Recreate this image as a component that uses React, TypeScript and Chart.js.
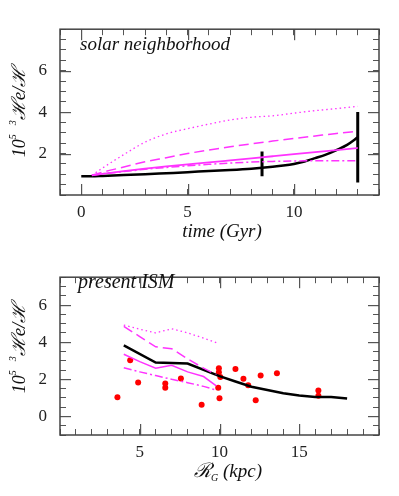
import { useEffect, useRef } from 'react';
import { Chart, registerables } from 'chart.js';
Chart.register(...registerables);

// ---------- Top panel: solar neighborhood ----------
const solarTime = [0, 0.5, 1, 2, 3, 4, 5, 6, 7, 8, 8.5, 9, 9.5, 10, 10.5, 11, 11.5, 12, 12.5, 13];
const solarModel = [0.9, 0.9, 0.92, 0.96, 1.0, 1.05, 1.1, 1.16, 1.21, 1.27, 1.31, 1.36, 1.42, 1.5, 1.62, 1.78, 1.95, 2.17, 2.42, 2.78];
const altTime = [0.5, 1, 2, 3, 4, 5, 6, 7, 8, 9, 10, 11, 12, 13];
const altDotted = [0.95, 1.3, 1.95, 2.55, 2.95, 3.2, 3.42, 3.62, 3.75, 3.82, 3.95, 4.07, 4.17, 4.28];
const altDashed = [0.95, 1.1, 1.35, 1.6, 1.8, 2.0, 2.17, 2.33, 2.47, 2.6, 2.73, 2.85, 2.97, 3.08];
const altSolid = [0.95, 1.02, 1.15, 1.27, 1.38, 1.48, 1.57, 1.67, 1.77, 1.87, 1.97, 2.07, 2.17, 2.27];
const altDashDot = [0.95, 1.02, 1.13, 1.24, 1.33, 1.41, 1.48, 1.54, 1.59, 1.62, 1.64, 1.65, 1.65, 1.65];
const errTime = [8.5, 13];
const errLow = [0.9, 0.6];
const errHigh = [2.1, 4.0];
const timeTickLabels = [0, 5, 10];
const heTickLabels = [0, 2, 4, 6];

// ---------- Bottom panel: present ISM ----------
const ismR = [4, 6, 8, 10, 11, 12, 13, 14, 15, 16, 17, 18];
const ismModel = [3.83, 2.9, 2.85, 2.17, 1.88, 1.6, 1.42, 1.25, 1.13, 1.05, 1.05, 0.97];
const gradR = [4, 5, 6, 7, 8, 9, 9.8];
const gradDotted = [4.92, 4.7, 4.5, 4.72, 4.5, 4.22, 3.98];
const gradDashed = [4.85, 4.3, 3.75, 3.65, 3.1, 2.6, 2.25];
const gradSolid = [3.35, 2.95, 2.6, 2.75, 2.4, 2.15, 1.65];
const gradDashDot = [2.62, 2.4, 2.2, 2.0, 1.82, 1.62, 1.42];
const obsR = [3.6, 4.4, 4.9, 6.6, 6.6, 7.58, 8.88, 9.96, 9.96, 10.05, 9.92, 10.0, 11.0, 11.5, 11.8, 12.27, 12.58, 13.6, 16.2, 16.2];
const obsHe = [1.03, 3.03, 1.83, 1.78, 1.55, 2.05, 0.63, 2.6, 2.38, 2.13, 1.55, 0.98, 2.55, 2.03, 1.68, 0.87, 2.2, 2.33, 1.4, 1.12];
const rTickLabels = [5, 10, 15];

const SERIF = '"Liberation Serif", "DejaVu Serif", serif';
const MAG = '#ff33ff';
const TICK = '#555';

const pts = (xs: number[], ys: number[]) => xs.map((x, i) => ({ x, y: ys[i] }));

type Seg = { t: string; size: number; dy: number; italic?: boolean };
function drawRich(ctx: CanvasRenderingContext2D, segs: Seg[], cx: number, cy: number) {
  let w = 0;
  for (const s of segs) {
    ctx.font = `${s.italic === false ? '' : 'italic '}${s.size}px ${SERIF}`;
    w += ctx.measureText(s.t).width;
  }
  let x = cx - w / 2;
  ctx.textBaseline = 'middle';
  ctx.textAlign = 'left';
  for (const s of segs) {
    ctx.font = `${s.italic === false ? '' : 'italic '}${s.size}px ${SERIF}`;
    ctx.fillText(s.t, x, cy + s.dy);
    x += ctx.measureText(s.t).width;
  }
}

type FrameOpts = {
  xmin: number; xmax: number; ymin: number; ymax: number;
  xMajor: number; yMajor: number;
  label: string; labelX: number; labelY: number; labelSize: number;
  xTitle: Seg[]; xTitleX: number; xTitleY: number; yTitleX: number; yTitleY: number;
};

// frame, longer major ticks, annotation and axis titles
function framePlugin(opts: FrameOpts) {
  return {
    id: 'innerFrame',
    afterDraw(chart: any) {
      const ctx: CanvasRenderingContext2D = chart.ctx;
      const area = chart.chartArea;
      const left = area.left, right = area.right, top = area.top, bottom = area.bottom;
      const xs = chart.scales.x;
      const ys = chart.scales.y;
      ctx.save();
      ctx.setLineDash([]);
      ctx.fillStyle = TICK;
      for (let v = Math.ceil(opts.xmin / opts.xMajor) * opts.xMajor; v <= opts.xmax; v += opts.xMajor) {
        const px = Math.round(xs.getPixelForValue(v));
        if (!Number.isFinite(px) || px <= left + 1 || px >= right - 1) continue;
        ctx.fillRect(px, bottom - 11, 1.2, 11);
        ctx.fillRect(px, top, 1.2, 11);
      }
      for (let v = Math.ceil(opts.ymin / opts.yMajor) * opts.yMajor; v <= opts.ymax; v += opts.yMajor) {
        const py = Math.round(ys.getPixelForValue(v));
        if (!Number.isFinite(py) || py <= top + 1 || py >= bottom - 1) continue;
        ctx.fillRect(left, py, 11, 1.2);
        ctx.fillRect(right - 11, py, 11, 1.2);
      }
      ctx.strokeStyle = '#444';
      ctx.lineWidth = 1.5;
      ctx.strokeRect(left, top, right - left, bottom - top);
      ctx.fillStyle = '#111';
      ctx.font = `italic ${opts.labelSize}px ${SERIF}`;
      ctx.textAlign = 'left';
      ctx.textBaseline = 'middle';
      ctx.fillText(opts.label, opts.labelX, opts.labelY);
      drawRich(ctx, opts.xTitle, opts.xTitleX, opts.xTitleY);
      ctx.translate(opts.yTitleX, opts.yTitleY);
      ctx.rotate(-Math.PI / 2);
      drawRich(ctx, [
        { t: '10', size: 18, dy: 0 },
        { t: '5', size: 10, dy: -7 },
        { t: '   ', size: 12, dy: 0 },
        { t: '3', size: 10, dy: -7 },
        { t: 'ℋe/ℋ', size: 19, dy: 0 },
      ], 0, 0);
      ctx.restore();
    },
  };
}

// inward minor ticks drawn by Chart.js itself (negative tick length)
const innerGrid = {
  display: true,
  drawOnChartArea: false,
  drawTicks: true,
  tickLength: -6,
  tickColor: TICK,
  tickWidth: 1,
};

function makeOptions(p: {
  xmin: number; xmax: number; ymin: number; ymax: number; xLabels: number[]; yLabels: number[];
  padTop: number; xHeight: number;
}) {
  return {
    responsive: false,
    animation: false as const,
    devicePixelRatio: 1,
    layout: { padding: { top: p.padTop, right: 20, left: 0, bottom: 0 } },
    plugins: { legend: { display: false }, tooltip: { enabled: false } },
    scales: {
      x: {
        type: 'linear' as const,
        position: 'bottom' as const,
        min: p.xmin,
        max: p.xmax,
        grid: innerGrid,
        border: { display: false },
        ticks: {
          stepSize: 1,
          autoSkip: false,
          maxRotation: 0,
          padding: 13,
          color: '#222',
          font: { family: SERIF, size: 17 },
          callback: (v: any) => (p.xLabels.includes(Number(v)) ? String(v) : ''),
        },
        afterFit: (s: any) => { s.height = p.xHeight; },
      },
      xt: {
        type: 'linear' as const,
        position: 'top' as const,
        min: p.xmin,
        max: p.xmax,
        grid: innerGrid,
        border: { display: false },
        ticks: { display: false, stepSize: 1, autoSkip: false },
        afterFit: (s: any) => { s.height = 0; },
      },
      y: {
        type: 'linear' as const,
        position: 'left' as const,
        min: p.ymin,
        max: p.ymax,
        grid: innerGrid,
        border: { display: false },
        ticks: {
          stepSize: 0.5,
          autoSkip: false,
          padding: 19,
          color: '#222',
          font: { family: SERIF, size: 17 },
          callback: (v: any) => (p.yLabels.includes(Number(v)) ? String(v) : ''),
        },
        afterFit: (s: any) => { s.width = 60; },
      },
      yr: {
        type: 'linear' as const,
        position: 'right' as const,
        min: p.ymin,
        max: p.ymax,
        grid: innerGrid,
        border: { display: false },
        ticks: { display: false, stepSize: 0.5, autoSkip: false },
        afterFit: (s: any) => { s.width = 0; },
      },
    },
  };
}

const lineDs = (data: any[], color: string, width: number, dash: number[], smooth = true) => ({
  data,
  xAxisID: 'x',
  yAxisID: 'y',
  showLine: true,
  borderColor: color,
  borderWidth: width,
  borderDash: dash,
  pointRadius: 0,
  fill: false,
  cubicInterpolationMode: smooth ? ('monotone' as const) : ('default' as const),
});

export default function App() {
  const topRef = useRef<HTMLCanvasElement>(null);
  const botRef = useRef<HTMLCanvasElement>(null);

  useEffect(() => {
    const top = new Chart(topRef.current!, {
      type: 'scatter',
      data: {
        datasets: [
          lineDs(pts(altTime, altDotted), MAG, 1.3, [1.5, 3]),
          lineDs(pts(altTime, altDashed), MAG, 1.5, [10, 5]),
          lineDs(pts(altTime, altSolid), MAG, 1.8, []),
          lineDs(pts(altTime, altDashDot), MAG, 1.5, [8, 3, 2, 3]),
          lineDs(pts(solarTime, solarModel), '#000', 2.5, []),
          ...errTime.map((t, i) => lineDs([{ x: t, y: errLow[i] }, { x: t, y: errHigh[i] }], '#000', 3, [], false)),
        ],
      },
      options: makeOptions({ xmin: -1, xmax: 14, ymin: 0, ymax: 8, xLabels: timeTickLabels, yLabels: heTickLabels.filter(v => v > 0), padTop: 15, xHeight: 53 }) as any,
      plugins: [framePlugin({
        xmin: -1, xmax: 14, ymin: 0, ymax: 8,
        xMajor: 5, yMajor: 2,
        label: 'solar neighborhood', labelX: 80, labelY: 45, labelSize: 19,
        xTitle: [{ t: 'time (Gyr)', size: 19, dy: 0 }], xTitleX: 222, xTitleY: 232,
        yTitleX: 20, yTitleY: 112,
      })],
    });
    const bot = new Chart(botRef.current!, {
      type: 'scatter',
      data: {
        datasets: [
          lineDs(pts(gradR, gradDotted), MAG, 1.3, [1.5, 3], false),
          lineDs(pts(gradR, gradDashed), MAG, 1.5, [10, 5], false),
          lineDs(pts(gradR, gradSolid), MAG, 1.5, [], false),
          lineDs(pts(gradR, gradDashDot), MAG, 1.5, [8, 3, 2, 3], false),
          lineDs(pts(ismR, ismModel), '#000', 2.5, [], false),
          {
            data: pts(obsR, obsHe),
            xAxisID: 'x',
            yAxisID: 'y',
            showLine: false,
            pointRadius: 3,
            pointBackgroundColor: '#ff0000',
            pointBorderColor: '#ff0000',
            pointBorderWidth: 0,
          },
        ],
      },
      options: makeOptions({ xmin: 0, xmax: 20, ymin: -1, ymax: 7.5, xLabels: rTickLabels, yLabels: heTickLabels, padTop: 17, xHeight: 61 }) as any,
      plugins: [framePlugin({
        xmin: 0, xmax: 20, ymin: -1, ymax: 7.5,
        xMajor: 5, yMajor: 2,
        label: 'present ISM', labelX: 78, labelY: 35, labelSize: 20,
        xTitle: [{ t: 'ℛ', size: 20, dy: 0 }, { t: 'G', size: 10, dy: 6 }, { t: ' (kpc)', size: 19, dy: 0 }],
        xTitleX: 228, xTitleY: 224,
        yTitleX: 20, yTitleY: 100,
      })],
    });
    return () => { top.destroy(); bot.destroy(); };
  }, []);

  return (
    <div style={{ position: 'absolute', left: 0, top: 0, width: 399, height: 496, background: '#fff' }}>
      <canvas ref={topRef} width={399} height={248} style={{ position: 'absolute', left: 0, top: 0, width: 399, height: 248 }} />
      <canvas ref={botRef} width={399} height={248} style={{ position: 'absolute', left: 0, top: 248, width: 399, height: 248 }} />
    </div>
  );
}
